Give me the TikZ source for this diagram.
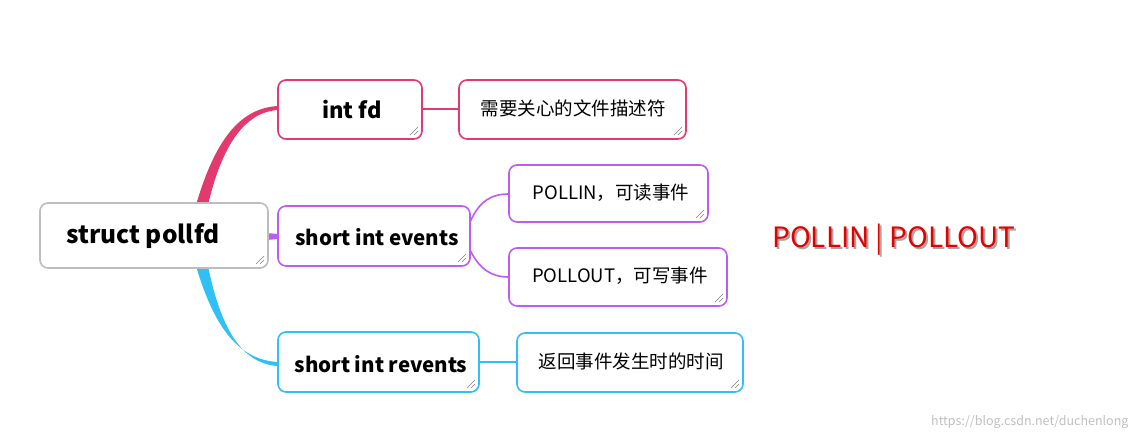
\documentclass[tikz,border=0pt]{standalone}
\usepackage{fontspec}
\setmainfont{Noto Sans CJK SC}
\begin{document}
\begin{tikzpicture}[x=1pt,y=-1pt,
 box/.style={draw=#1,line width=1.6pt,rounded corners=8pt,fill=white,inner sep=0pt},
 lbl/.style={font=\fontsize{18.5}{21}\selectfont},
 blbl/.style={font=\fontsize{20.5}{24}\selectfont\bfseries}]
\useasboundingbox (0,0) rectangle (1139,440);
\definecolor{cpink}{HTML}{E23A6E}
\definecolor{cpurp}{HTML}{BE5CF2}
\definecolor{ccyan}{HTML}{30C0F6}
\definecolor{cgray}{HTML}{BDBDBD}
\newcommand\mybox[6]{% name, x1,y1,x2,y2,color
 \draw[box=#6] (#2,#3) rectangle (#4,#5);
 \coordinate (#1) at ({(#2+#4)/2},{(#3+#5)/2});
 \draw[gray,line width=0.6pt] (#4-4,#5-12)--(#4-12,#5-4) (#4-4,#5-8)--(#4-8,#5-4);}
% connectors (tapered)
\fill[cpink] (196,205) .. controls (215,140) and (240,108) .. (278,106) -- (278,110) .. controls (245,112) and (222,145) .. (208,205) -- cycle;
\fill[cpurp] (243,231) -- (278,234) -- (278,239) -- (243,242) -- cycle;
\fill[ccyan] (196,266) .. controls (215,330) and (240,360) .. (278,362) -- (278,366) .. controls (245,364) and (222,335) .. (208,266) -- cycle;
% boxes
\mybox{r}{40}{203}{268}{268}{cgray}
\mybox{a}{278}{80}{422}{139}{cpink}
\mybox{a1}{459}{80}{686}{139}{cpink}
\mybox{b}{278}{206}{470}{266}{cpurp}
\mybox{b1}{509}{165}{708}{222}{cpurp}
\mybox{b2}{509}{248}{727}{306}{cpurp}
\mybox{c}{278}{332}{479}{392}{ccyan}
\mybox{c1}{517}{333}{743}{392}{ccyan}
% lines between
\draw[cpink,line width=2pt] (422,109) -- (459,109);
\draw[ccyan,line width=2pt] (479,362) -- (517,362);
\draw[cpurp,line width=1.6pt] (470,222) .. controls (480,200) and (492,194) .. (509,194);
\draw[cpurp,line width=1.6pt] (470,250) .. controls (480,270) and (492,277) .. (509,277);
% text
\node[font=\fontsize{24.5}{28}\selectfont\bfseries] (rt) at (143,236) {struct pollfd};
\node[font=\fontsize{22}{26}\selectfont\bfseries] (at) at (352,110) {int fd};
\node[lbl] (a1t) at (573,108) {需要关心的文件描述符};
\node[blbl] (bt) at (377,237) {short int events};
\node[lbl] (b1t) at (611,193) {POLLIN，可读事件};
\node[lbl] (b2t) at (620,276) {POLLOUT，可写事件};
\node[blbl] (ct) at (381,364) {short int revents};
\node[lbl] (c1t) at (631,361) {返回事件发生时的时间};
\node[font=\fontsize{28}{32}\selectfont,text=black!35] at (896,242) {POLLIN | POLLOUT};
\node[font=\fontsize{28}{32}\selectfont,text=red!90!black] (p) at (894,240) {POLLIN | POLLOUT};
\node[font=\fontsize{12.5}{14}\selectfont,text=black!25,anchor=east] (w) at (1132,422) {https://blog.csdn.net/duchenlong};
\end{tikzpicture}
\end{document}
